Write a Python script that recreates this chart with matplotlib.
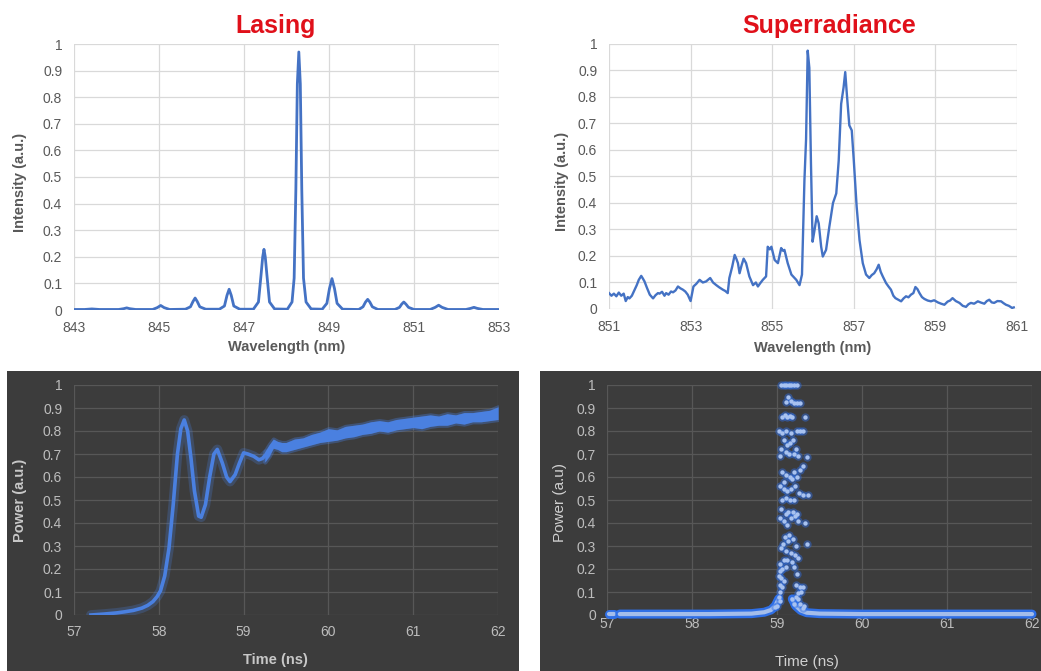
import numpy as np
import matplotlib
matplotlib.use('Agg')
import matplotlib.pyplot as plt
from matplotlib.patches import Rectangle
from matplotlib.ticker import FuncFormatter, MultipleLocator

plt.rcParams['font.family'] = ['Liberation Sans', 'DejaVu Sans']

# lasing spectrum (top left)
lasing_wl = [843.0, 843.25, 843.42, 843.6,
             844.05, 844.17, 844.24, 844.31, 844.45,
             844.85, 844.96, 845.04, 845.12, 845.25,
             845.62, 845.74, 845.8, 845.85, 845.9, 845.96, 846.1,
             846.42, 846.54, 846.6, 846.65, 846.7, 846.76, 846.9,
             847.22, 847.34, 847.4, 847.44, 847.47, 847.5, 847.54, 847.6, 847.72,
             848.02, 848.13, 848.18, 848.22, 848.255, 848.29, 848.325, 848.36, 848.4, 848.46, 848.58,
             848.84, 848.95, 849.01, 849.07, 849.13, 849.19, 849.32,
             849.7, 849.8, 849.86, 849.91, 849.96, 850.02, 850.15,
             850.55, 850.66, 850.71, 850.76, 850.81, 850.87, 851.0,
             851.38, 851.5, 851.58, 851.66, 851.8,
             852.22, 852.33, 852.41, 852.49, 852.62, 853.0]
lasing_int = [0.002, 0.002, 0.004, 0.002,
              0.002, 0.005, 0.008, 0.005, 0.002,
              0.002, 0.009, 0.017, 0.009, 0.002,
              0.003, 0.012, 0.032, 0.045, 0.032, 0.012, 0.003,
              0.003, 0.015, 0.055, 0.078, 0.055, 0.015, 0.003,
              0.003, 0.03, 0.13, 0.2, 0.228, 0.2, 0.13, 0.03, 0.004,
              0.003, 0.03, 0.12, 0.45, 0.85, 0.97, 0.85, 0.45, 0.12, 0.03, 0.004,
              0.003, 0.025, 0.08, 0.118, 0.08, 0.025, 0.003,
              0.002, 0.012, 0.03, 0.04, 0.03, 0.012, 0.002,
              0.002, 0.01, 0.022, 0.03, 0.022, 0.01, 0.002,
              0.002, 0.01, 0.018, 0.01, 0.002,
              0.002, 0.006, 0.01, 0.006, 0.002, 0.002]

# superradiance spectrum (top right)
super_wl = [851.0, 851.06, 851.12, 851.18, 851.24, 851.3, 851.36, 851.41, 851.46, 851.5,
            851.56, 851.63, 851.68, 851.73, 851.79, 851.83, 851.87, 851.93, 852.0, 852.08,
            852.14, 852.2, 852.24, 852.3, 852.36, 852.4, 852.46, 852.52, 852.57, 852.63,
            852.69, 852.75, 852.81, 852.87, 852.93, 853.0, 853.07, 853.14, 853.22, 853.3,
            853.38, 853.44, 853.48, 853.55, 853.63, 853.7, 853.79, 853.85, 853.91, 853.95,
            854.02, 854.08, 854.12, 854.16, 854.2, 854.25, 854.3, 854.36, 854.44, 854.53,
            854.6, 854.65, 854.71, 854.77, 854.85, 854.89, 854.94, 854.98, 855.06, 855.14,
            855.22, 855.26, 855.3, 855.38, 855.47, 855.53, 855.59, 855.67, 855.73, 855.79,
            855.83, 855.87, 855.91, 855.95, 855.99, 856.04, 856.09, 856.14, 856.2, 856.24,
            856.32, 856.4, 856.49, 856.57, 856.63, 856.69, 856.75, 856.79, 856.83, 856.89,
            856.95, 857.0, 857.07, 857.14, 857.22, 857.3, 857.38, 857.44, 857.5, 857.56,
            857.61, 857.66, 857.71, 857.79, 857.85, 857.91, 857.97, 858.02, 858.09, 858.16,
            858.22, 858.28, 858.34, 858.4, 858.46, 858.51, 858.56, 858.61, 858.67, 858.73,
            858.81, 858.89, 858.97, 859.06, 859.14, 859.22, 859.3, 859.36, 859.42, 859.5,
            859.59, 859.67, 859.75, 859.81, 859.87, 859.95, 860.04, 860.12, 860.2, 860.26,
            860.32, 860.38, 860.44, 860.52, 860.61, 860.67, 860.73, 860.8, 860.88, 860.92]
super_int = [0.06, 0.05, 0.058, 0.048, 0.062, 0.05, 0.058, 0.03, 0.045, 0.04,
             0.05, 0.073, 0.09, 0.11, 0.125, 0.115, 0.104, 0.08, 0.054, 0.04,
             0.052, 0.06, 0.058, 0.065, 0.05, 0.06, 0.054, 0.066, 0.063, 0.07,
             0.085, 0.078, 0.073, 0.066, 0.054, 0.03, 0.085, 0.095, 0.11, 0.1,
             0.104, 0.112, 0.117, 0.1, 0.09, 0.082, 0.073, 0.068, 0.06, 0.117,
             0.16, 0.204, 0.19, 0.173, 0.135, 0.165, 0.19, 0.173, 0.123, 0.09,
             0.1, 0.085, 0.098, 0.11, 0.123, 0.235, 0.225, 0.235, 0.185, 0.173,
             0.23, 0.22, 0.223, 0.173, 0.13, 0.12, 0.11, 0.09, 0.13, 0.486,
             0.64, 0.975, 0.91, 0.55, 0.254, 0.3, 0.35, 0.323, 0.235, 0.198,
             0.223, 0.31, 0.4, 0.436, 0.56, 0.774, 0.837, 0.894, 0.81, 0.693,
             0.674, 0.56, 0.386, 0.26, 0.173, 0.13, 0.117, 0.128, 0.135, 0.15,
             0.167, 0.14, 0.123, 0.098, 0.085, 0.073, 0.05, 0.041, 0.035, 0.029,
             0.04, 0.048, 0.044, 0.054, 0.06, 0.083, 0.075, 0.06, 0.045, 0.038,
             0.032, 0.029, 0.033, 0.025, 0.02, 0.016, 0.028, 0.032, 0.041, 0.03,
             0.023, 0.012, 0.008, 0.018, 0.023, 0.02, 0.029, 0.024, 0.02, 0.03,
             0.035, 0.025, 0.023, 0.03, 0.029, 0.022, 0.016, 0.012, 0.004, 0.006]

# lasing time trace (bottom left): clean rise, then a noisy band
rise_t = [57.2, 57.35, 57.5, 57.6, 57.7, 57.8, 57.87, 57.93, 57.98, 58.02, 58.07,
          58.12, 58.17, 58.22, 58.26, 58.3, 58.34, 58.38, 58.42, 58.47, 58.5,
          58.55, 58.6, 58.65, 58.69, 58.75, 58.8, 58.84, 58.9, 58.95, 59.0,
          59.05, 59.12, 59.18, 59.22, 59.27]
rise_p = [0.0, 0.004, 0.009, 0.014, 0.02, 0.03, 0.042, 0.058, 0.08, 0.105, 0.17,
          0.29, 0.48, 0.7, 0.81, 0.848, 0.8, 0.68, 0.54, 0.43, 0.425,
          0.48, 0.6, 0.7, 0.72, 0.66, 0.6, 0.58, 0.61, 0.66, 0.705,
          0.7, 0.69, 0.675, 0.68, 0.7]
band_t = [59.25, 59.3, 59.35, 59.4, 59.45, 59.5, 59.6, 59.7, 59.8, 59.9, 60.0,
          60.1, 60.2, 60.3, 60.4, 60.5, 60.6, 60.7, 60.8, 60.9, 61.0,
          61.1, 61.2, 61.3, 61.4, 61.5, 61.6, 61.7, 61.8, 61.9, 62.0]
band_hi = [0.71, 0.74, 0.765, 0.755, 0.75, 0.75, 0.765, 0.77, 0.785, 0.795, 0.81,
           0.805, 0.82, 0.825, 0.83, 0.84, 0.845, 0.84, 0.85, 0.855, 0.86,
           0.865, 0.87, 0.865, 0.875, 0.87, 0.88, 0.88, 0.885, 0.89, 0.905]
band_lo = [0.665, 0.69, 0.725, 0.72, 0.71, 0.71, 0.72, 0.73, 0.74, 0.75, 0.755,
           0.76, 0.77, 0.775, 0.785, 0.79, 0.8, 0.795, 0.805, 0.81, 0.815,
           0.81, 0.82, 0.825, 0.825, 0.835, 0.83, 0.84, 0.84, 0.845, 0.85]

# superradiance time trace (bottom right): baseline pieces plus burst points
base_left_t = [57.15, 57.6, 58.2, 58.7, 58.85, 58.93, 58.98, 59.02]
base_left_p = [0.004, 0.004, 0.004, 0.006, 0.012, 0.022, 0.04, 0.07]
base_right_t = [59.18, 59.22, 59.28, 59.35, 59.5, 60.0, 61.0, 62.0]
base_right_p = [0.07, 0.04, 0.02, 0.01, 0.006, 0.004, 0.004, 0.004]
stub_t = [57.02, 57.08]
stub_p = [0.005, 0.005]
burst_t = [59.05, 59.08, 59.11, 59.14, 59.17, 59.2, 59.23,
           59.13, 59.16, 59.1, 59.2, 59.24, 59.27,
           59.06, 59.09, 59.12, 59.15, 59.18, 59.33,
           59.02, 59.06, 59.1, 59.17, 59.23, 59.27, 59.31,
           59.08, 59.12, 59.15, 59.19, 59.05, 59.1, 59.14, 59.2, 59.03, 59.25, 59.35, 59.22,
           59.3, 59.27, 59.06, 59.1, 59.15, 59.2, 59.24, 59.08, 59.18,
           59.04, 59.08, 59.12, 59.16, 59.21, 59.26, 59.37, 59.06, 59.11, 59.15, 59.2, 59.3,
           59.05, 59.1, 59.13, 59.19, 59.23, 59.04, 59.08, 59.16, 59.21, 59.25, 59.33, 59.12,
           59.14, 59.09, 59.19, 59.07, 59.13, 59.22, 59.35, 59.05,
           59.1, 59.16, 59.21, 59.25, 59.08, 59.12, 59.18, 59.03, 59.06, 59.1, 59.2, 59.04,
           59.02, 59.05, 59.08, 59.23, 59.03, 59.06, 59.04, 59.22, 59.27, 59.3, 59.28, 59.25,
           59.02, 59.03, 59.0, 59.22, 59.25, 59.18, 59.2, 59.27, 59.32, 59.3, 58.98]
burst_p = [1.0, 1.0, 1.0, 1.0, 1.0, 1.0, 1.0,
           0.95, 0.93, 0.925, 0.92, 0.92, 0.92,
           0.86, 0.87, 0.86, 0.865, 0.86, 0.86,
           0.8, 0.79, 0.8, 0.79, 0.8, 0.8, 0.8,
           0.76, 0.74, 0.75, 0.76, 0.72, 0.71, 0.7, 0.7, 0.69, 0.69, 0.685, 0.72,
           0.65, 0.63, 0.62, 0.61, 0.6, 0.62, 0.6, 0.58, 0.59,
           0.56, 0.55, 0.54, 0.55, 0.56, 0.53, 0.52, 0.5, 0.51, 0.5, 0.5, 0.52,
           0.46, 0.44, 0.45, 0.45, 0.44, 0.42, 0.41, 0.42, 0.43, 0.41, 0.4, 0.39,
           0.35, 0.34, 0.33, 0.31, 0.32, 0.3, 0.31, 0.29,
           0.28, 0.27, 0.26, 0.25, 0.24, 0.24, 0.23, 0.22, 0.2, 0.21, 0.21, 0.19,
           0.17, 0.16, 0.15, 0.18, 0.13, 0.12, 0.1, 0.13, 0.12, 0.12, 0.1, 0.095,
           0.08, 0.06, 0.04, 0.08, 0.07, 0.07, 0.05, 0.05, 0.04, 0.03, 0.035]

W, H = 1041, 671
fig = plt.figure(figsize=(W / 100, H / 100), dpi=100)

def px_axes(x0, x1, y_top, y_bot):
    # axes rectangle given in pixel coordinates of the reference
    return fig.add_axes([x0 / W, 1 - y_bot / H, (x1 - x0) / W, (y_bot - y_top) / H])

# dark backgrounds behind the two lower charts
dark = '#3c3c3c'
fig.patches.append(Rectangle((7 / W, 0), 512 / W, 300 / H, transform=fig.transFigure,
                             facecolor=dark, edgecolor='none', zorder=-10))
fig.patches.append(Rectangle((540 / W, 0), 501 / W, 300 / H, transform=fig.transFigure,
                             facecolor=dark, edgecolor='none', zorder=-10))

fmt = FuncFormatter(lambda v, _: '%g' % round(v, 2))

def style(ax, light, xpad, ypad):
    grid_c = '#d9d9d9' if light else '#575757'
    tick_c = '#595959' if light else '#bdbdbd'
    ax.set_facecolor('white' if light else dark)
    for s in ax.spines.values():
        s.set_visible(False)
    ax.grid(True, color=grid_c, linewidth=0.9)
    ax.set_axisbelow(True)
    ax.set_ylim(0, 1)
    ax.yaxis.set_major_locator(MultipleLocator(0.1))
    ax.yaxis.set_major_formatter(fmt)
    ax.tick_params(axis='x', length=0, labelsize=10, colors=tick_c, pad=xpad)
    ax.tick_params(axis='y', length=0, labelsize=10, colors=tick_c, pad=ypad)

blue = '#4472c4'
red = '#e0101a'

# top left: lasing spectrum
ax1 = px_axes(74, 499, 44, 310)
style(ax1, True, 8, 8.5)
ax1.plot(lasing_wl, lasing_int, color=blue, lw=2)
ax1.set_xlim(843, 853)
ax1.set_xticks(np.arange(843, 854, 2))
ax1.set_xlabel('Wavelength (nm)', fontsize=10.5, fontweight='bold', color='#595959')
ax1.set_ylabel('Intensity (a.u.)', fontsize=10.5, fontweight='bold', color='#595959')
ax1.xaxis.set_label_coords(0.5, -0.112)
ax1.yaxis.set_label_coords(-0.111, 0.48)
fig.text(276 / W, 1 - 33 / H, 'Lasing', color=red, fontsize=18, fontweight='bold',
         ha='center', va='baseline')

# top right: superradiance spectrum
ax2 = px_axes(609, 1017, 44, 309)
style(ax2, True, 8, 8.5)
ax2.plot(super_wl, super_int, color=blue, lw=1.7)
ax2.set_xlim(851, 861)
ax2.set_xticks(np.arange(851, 862, 2))
ax2.set_xlabel('Wavelength (nm)', fontsize=10.5, fontweight='bold', color='#595959')
ax2.set_ylabel('Intensity (a.u.)', fontsize=10.5, fontweight='bold', color='#595959')
ax2.xaxis.set_label_coords(0.5, -0.12)
ax2.yaxis.set_label_coords(-0.098, 0.48)
fig.text(829 / W, 1 - 33 / H, 'Superradiance', color=red, fontsize=18, fontweight='bold',
         ha='center', va='baseline')

# bottom left: lasing power vs time
glow = '#4a80e0'
ax3 = px_axes(74, 498, 385, 615)
style(ax3, False, 7, 8.5)
ax3.plot(rise_t, rise_p, color=glow, lw=7, alpha=0.25, solid_capstyle='round')
ax3.plot(rise_t, rise_p, color=glow, lw=2.6)
ax3.fill_between(band_t, band_lo, band_hi, color=glow, alpha=0.35, lw=3, edgecolor=glow)
ax3.fill_between(band_t, band_lo, band_hi, color=glow, lw=0)
ax3.set_xlim(57, 62)
ax3.xaxis.set_major_locator(MultipleLocator(1))
ax3.set_xlabel('Time (ns)', fontsize=10.5, fontweight='bold', color='#c8c8c8')
ax3.set_ylabel('Power (a.u.)', fontsize=10.5, fontweight='bold', color='#c8c8c8')
ax3.xaxis.set_label_coords(0.475, -0.165)
ax3.yaxis.set_label_coords(-0.11, 0.5)

# bottom right: superradiant burst
ax4 = px_axes(607, 1032, 385, 615)
style(ax4, False, 1.5, 8)
for bt, bp in ((stub_t, stub_p), (base_left_t, base_left_p), (base_right_t, base_right_p)):
    ax4.plot(bt, bp, color='#2f6fe6', lw=6.5, solid_capstyle='round', clip_on=False)
    ax4.plot(bt, bp, color='#a4bdea', lw=3, solid_capstyle='round', clip_on=False)
ax4.scatter(burst_t, burst_p, s=36, color='#2f6fe6', alpha=0.45, lw=0, zorder=3, clip_on=False)
ax4.scatter(burst_t, burst_p, s=10, color='#a8c2f0', lw=0, zorder=4, clip_on=False)
ax4.set_xlim(57, 62)
ax4.xaxis.set_major_locator(MultipleLocator(1))
ax4.set_xlabel('Time (ns)', fontsize=11, color='#d0d0d0')
ax4.set_ylabel('Power (a.u)', fontsize=11, color='#d0d0d0')
ax4.xaxis.set_label_coords(0.47, -0.175)
ax4.yaxis.set_label_coords(-0.094, 0.49)

fig.savefig('out.png', dpi=100)
